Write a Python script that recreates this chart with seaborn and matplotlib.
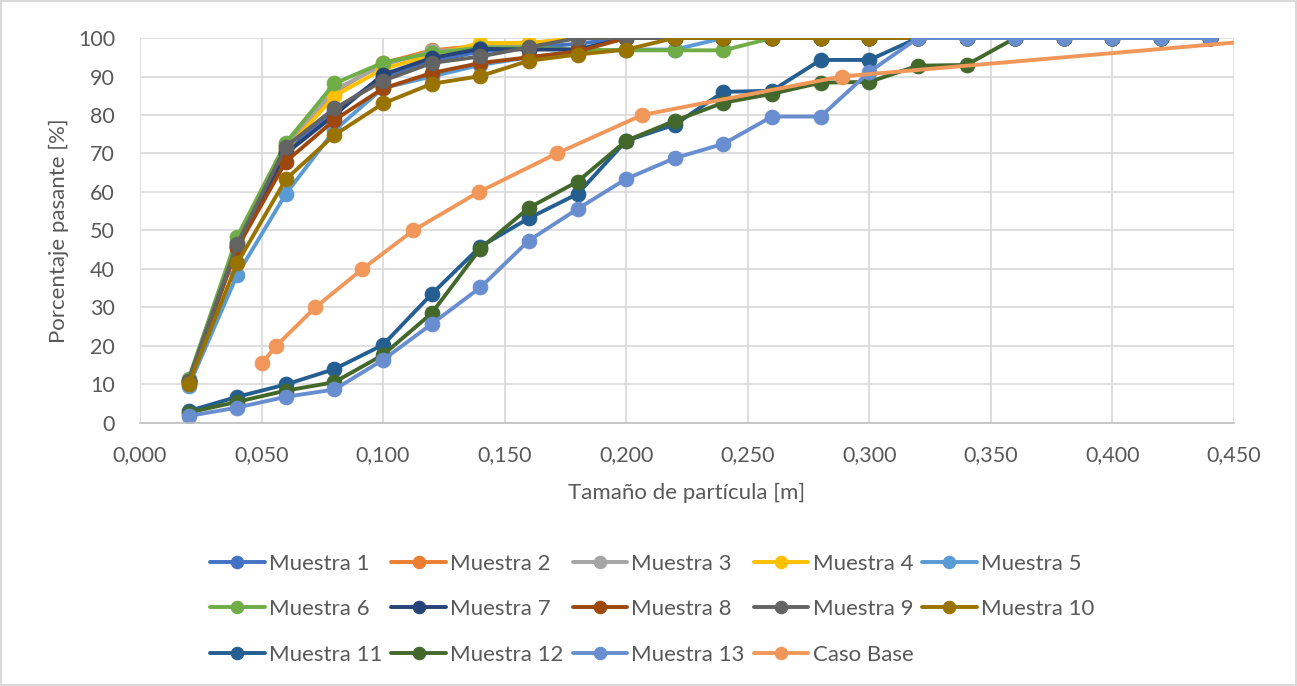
import numpy as np
import pandas as pd
import matplotlib
matplotlib.use('Agg')
import matplotlib.pyplot as plt
import seaborn as sns

sns.set_theme(style='white')
plt.rcParams['font.family'] = ['Lato', 'DejaVu Sans']

# tamaños de partícula [m]
tamano = [0.02, 0.04, 0.06, 0.08, 0.10, 0.12, 0.14, 0.16, 0.18, 0.20, 0.22,
          0.24, 0.26, 0.28, 0.30, 0.32, 0.34, 0.36, 0.38, 0.40, 0.42, 0.44]

m1 = [11.0, 46.0, 71.0, 81.0, 90.0, 94.0, 96.5, 97.5, 98.5, 100, 100, 100, 100, 100, 100, 100, 100, 100, 100, 100, 100, 100]
m2 = [11.0, 47.0, 72.0, 86.0, 93.5, 96.8, 98.0, 98.3, 100, 100, 100, 100, 100, 100, 100, 100, 100, 100, 100, 100, 100, 100]
m3 = [11.0, 47.0, 72.5, 86.5, 93.0, 96.5, 97.5, 98.5, 100, 100, 100, 100, 100, 100, 100, 100, 100, 100, 100, 100, 100, 100]
m4 = [10.5, 46.0, 71.0, 84.9, 92.0, 95.5, 98.7, 98.7, 100, 100, 100, 100, 100, 100, 100, 100, 100, 100, 100, 100, 100, 100]
m5 = [9.5, 38.5, 59.5, 76.0, 87.0, 90.0, 93.0, 95.0, 96.5, 97.0, 97.0, 100, 100, 100, 100, 100, 100, 100, 100, 100, 100, 100]
m6 = [11.5, 48.4, 72.8, 88.2, 93.6, 96.1, 97.5, 97.5, 97.0, 96.8, 96.8, 96.8, 100, 100, 100, 100, 100, 100, 100, 100, 100, 100]
m7 = [11.0, 46.0, 70.0, 80.0, 90.5, 94.8, 97.2, 97.0, 97.0, 100, 100, 100, 100, 100, 100, 100, 100, 100, 100, 100, 100, 100]
m8 = [10.5, 45.5, 67.9, 78.7, 86.9, 90.9, 93.5, 95.0, 96.5, 100, 100, 100, 100, 100, 100, 100, 100, 100, 100, 100, 100, 100]
m9 = [11.0, 46.5, 71.8, 81.7, 88.9, 93.5, 95.2, 97.6, 100, 100, 100, 100, 100, 100, 100, 100, 100, 100, 100, 100, 100, 100]
m10 = [10.0, 41.5, 63.3, 74.8, 83.0, 88.1, 90.1, 94.1, 95.7, 97.0, 100, 100, 100, 100, 100, 100, 100, 100, 100, 100, 100, 100]
m11 = [3.1, 6.8, 10.0, 14.0, 20.3, 33.5, 45.8, 53.2, 59.5, 73.3, 77.5, 86.0, 86.3, 94.3, 94.3, 100, 100, 100, 100, 100, 100, 100]
m12 = [2.7, 5.5, 8.4, 10.6, 17.7, 28.5, 45.3, 55.9, 62.7, 73.3, 78.5, 83.2, 85.5, 88.4, 88.6, 92.8, 93.0, 100, 100, 100, 100, 100]
m13 = [1.8, 4.0, 6.8, 8.7, 16.4, 25.7, 35.2, 47.4, 55.6, 63.4, 68.8, 72.5, 79.6, 79.6, 91.2, 100, 100, 100, 100, 100, 100, 100]

base_x = [0.0502, 0.0560, 0.0721, 0.0915, 0.1124, 0.1394, 0.1714, 0.2066, 0.2886, 0.4720]
base_y = [15.5, 20.0, 30.0, 40.0, 50.0, 60.0, 70.0, 80.0, 90.0, 100.0]

nombres = ['Muestra %d' % i for i in range(1, 14)] + ['Caso Base']
colores = ['#4472C4', '#ED7D31', '#A5A5A5', '#FFC000', '#5B9BD5', '#70AD47', '#264478',
           '#9E480E', '#636363', '#997300', '#255E91', '#43682B', '#698ED0', '#F1975A']

series = [m1, m2, m3, m4, m5, m6, m7, m8, m9, m10, m11, m12, m13]
filas = []
for nom, vals in zip(nombres[:13], series):
    for xi, yi in zip(tamano, vals):
        filas.append((nom, xi, yi))
for xi, yi in zip(base_x, base_y):
    filas.append(('Caso Base', xi, yi))
df = pd.DataFrame(filas, columns=['serie', 'tam', 'pct'])

gris = '#595959'
fig = plt.figure(figsize=(12.97, 6.86), dpi=100)
ax = fig.add_axes([0.1079, 0.3834, 0.8435, 0.5612])

sns.lineplot(data=df, x='tam', y='pct', hue='serie', hue_order=nombres,
             palette=colores, marker='o', markersize=10.5, linewidth=2.8,
             markeredgewidth=0.8, sort=False, errorbar=None, legend=False, ax=ax)
lineas = ax.get_lines()[:14]
for ln in lineas:
    ln.set_markeredgecolor(ln.get_color())

ax.set_xlim(0, 0.45)
ax.set_ylim(0, 100)
ax.set_xticks(np.arange(0, 0.451, 0.05))
ax.set_xticklabels([('%.3f' % v).replace('.', ',') for v in np.arange(0, 0.451, 0.05)])
ax.set_yticks(range(0, 101, 10))
ax.grid(True, color='#D9D9D9', linewidth=1.2)
ax.set_axisbelow(True)
for s in ['top', 'right', 'left']:
    ax.spines[s].set_visible(False)
ax.spines['bottom'].set_color('#BFBFBF')
ax.spines['bottom'].set_linewidth(1.2)
ax.tick_params(axis='both', length=0, labelsize=15.5, labelcolor=gris)
ax.tick_params(axis='x', pad=16)
ax.tick_params(axis='y', pad=18)
ax.set_xlabel('Tamaño de partícula [m]', fontsize=16, color=gris, labelpad=13)
ax.set_ylabel('Porcentaje pasante [%]', fontsize=16, color=gris, labelpad=6.5)

# leyenda por filas (5 columnas)
orden = [0, 5, 10, 1, 6, 11, 2, 7, 12, 3, 8, 13, 4, 9]
fig.legend([lineas[i] for i in orden], [nombres[i] for i in orden], loc='center',
           bbox_to_anchor=(0.503, 0.112), ncol=5, frameon=False, fontsize=16,
           labelcolor=gris, handlelength=2.45, handletextpad=0.2, columnspacing=0.4,
           labelspacing=1.15, markerscale=0.85)

fig.patch.set_edgecolor('#D9D9D9')
fig.patch.set_linewidth(1.5)
fig.savefig('out.png', dpi=100, edgecolor=fig.get_edgecolor())
